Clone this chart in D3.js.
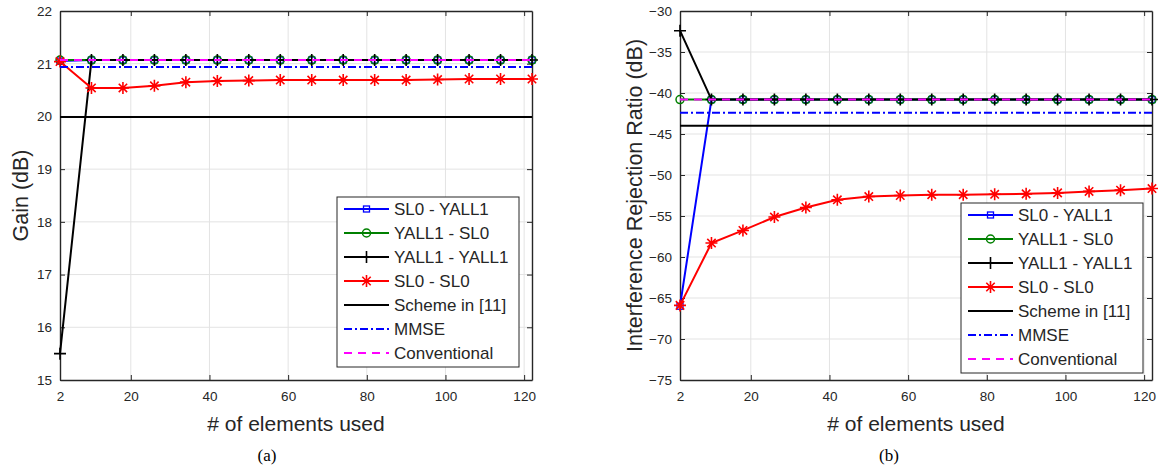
<!DOCTYPE html>
<html>
<head>
<meta charset="utf-8">
<script src="https://cdn.jsdelivr.net/npm/d3@7"></script>
<style>
body { margin: 0; background: #fff; }
svg text { font-family: "Liberation Sans", Arial, sans-serif; fill: #262626; }
</style>
</head>
<body>
<svg id="chart" width="1158" height="466"></svg>
<script>
// x values shared by both panels
const elements = [2, 10, 18, 26, 34, 42, 50, 58, 66, 74, 82, 90, 98, 106, 114, 122];
const xTicks = [2, 20, 40, 60, 80, 100, 120];
const seriesNames = ["SL0 - YALL1", "YALL1 - SL0", "YALL1 - YALL1", "SL0 - SL0", "Scheme in [11]", "MMSE", "Conventional"];

// panel (a): gain
const gainTicks = [15, 16, 17, 18, 19, 20, 21, 22];
const gainSl0Yall1 = [21.05, 21.07, 21.07, 21.07, 21.07, 21.07, 21.07, 21.07, 21.07, 21.07, 21.07, 21.07, 21.07, 21.07, 21.07, 21.07];
const gainYall1Sl0 = [21.07, 21.07, 21.07, 21.07, 21.07, 21.07, 21.07, 21.07, 21.07, 21.07, 21.07, 21.07, 21.07, 21.07, 21.07, 21.07];
const gainYall1Yall1 = [15.5, 21.07, 21.07, 21.07, 21.07, 21.07, 21.07, 21.07, 21.07, 21.07, 21.07, 21.07, 21.07, 21.07, 21.07, 21.07];
const gainSl0Sl0 = [21.04, 20.54, 20.54, 20.58, 20.65, 20.67, 20.68, 20.69, 20.69, 20.69, 20.69, 20.69, 20.7, 20.71, 20.71, 20.71];
const gainScheme11 = [19.99, 19.99];
const gainMmse = [20.94, 20.94];
const gainConventional = [21.07, 21.07];

// panel (b): interference rejection ratio
const irrTicks = [-75, -70, -65, -60, -55, -50, -45, -40, -35, -30];
const irrSl0Yall1 = [-66, -40.8, -40.8, -40.8, -40.8, -40.8, -40.8, -40.8, -40.8, -40.8, -40.8, -40.8, -40.8, -40.8, -40.8, -40.8];
const irrYall1Sl0 = [-40.8, -40.8, -40.8, -40.8, -40.8, -40.8, -40.8, -40.8, -40.8, -40.8, -40.8, -40.8, -40.8, -40.8, -40.8, -40.8];
const irrYall1Yall1 = [-32.4, -40.8, -40.8, -40.8, -40.8, -40.8, -40.8, -40.8, -40.8, -40.8, -40.8, -40.8, -40.8, -40.8, -40.8, -40.8];
const irrSl0Sl0 = [-65.9, -58.3, -56.76, -55.13, -53.97, -53.03, -52.63, -52.5, -52.4, -52.4, -52.35, -52.3, -52.18, -52.0, -51.85, -51.65];
const irrScheme11 = [-44.0, -44.0];
const irrMmse = [-42.4, -42.4];
const irrConventional = [-40.8, -40.8];

const flatX = [2, 122];

const styles = [
    { color: "#0000ff", marker: "square", dash: null },
    { color: "#008000", marker: "circle", dash: null },
    { color: "#000000", marker: "plus", dash: null },
    { color: "#ff0000", marker: "star", dash: null },
    { color: "#000000", marker: null, dash: null },
    { color: "#0000ff", marker: null, dash: "8,3,2,3" },
    { color: "#ff00ff", marker: null, dash: "8,6" }
];

const svg = d3.select("#chart");

function drawMarker(g, type, color) {
    if (type === "square") {
        g.append("rect").attr("x", -3).attr("y", -3).attr("width", 6).attr("height", 6)
            .attr("fill", "none").attr("stroke", color).attr("stroke-width", 1.3);
    } else if (type === "circle") {
        g.append("circle").attr("r", 4).attr("fill", "none").attr("stroke", color).attr("stroke-width", 1.5);
    } else if (type === "plus") {
        g.append("path").attr("d", "M-6,0H6M0,-6V6").attr("stroke", color).attr("stroke-width", 1.6);
    } else if (type === "star") {
        g.append("path").attr("d", "M-6,0H6M0,-6V6M-4.2,-4.2L4.2,4.2M-4.2,4.2L4.2,-4.2")
            .attr("stroke", color).attr("stroke-width", 1.6);
    }
}

function drawPanel(p) {
    const x = d3.scaleLinear().domain([2, 122]).range([p.left, p.right]);
    const y = d3.scaleLinear().domain(p.yDomain).range([p.bottom, p.top]);
    const g = svg.append("g");
    const fmt = d3.format("~g");

    // grid
    g.append("g").selectAll("line").data(xTicks.slice(1)).enter().append("line")
        .attr("x1", d => x(d)).attr("x2", d => x(d)).attr("y1", p.top).attr("y2", p.bottom)
        .attr("stroke", "#e3e3e3").attr("stroke-width", 1);
    g.append("g").selectAll("line").data(p.yTicks.slice(1, -1)).enter().append("line")
        .attr("x1", p.left).attr("x2", p.right).attr("y1", d => y(d)).attr("y2", d => y(d))
        .attr("stroke", "#e3e3e3").attr("stroke-width", 1);

    // axes with inward ticks on all four sides
    const axB = g.append("g").attr("transform", `translate(0,${p.bottom})`)
        .call(d3.axisBottom(x).tickValues(xTicks).tickFormat(fmt).tickSizeInner(-5).tickSizeOuter(0).tickPadding(11));
    const axT = g.append("g").attr("transform", `translate(0,${p.top})`)
        .call(d3.axisTop(x).tickValues(xTicks).tickSizeInner(-5).tickSizeOuter(0).tickFormat(""));
    const axL = g.append("g").attr("transform", `translate(${p.left},0)`)
        .call(d3.axisLeft(y).tickValues(p.yTicks).tickFormat(fmt).tickSizeInner(-5).tickSizeOuter(0).tickPadding(8));
    const axR = g.append("g").attr("transform", `translate(${p.right},0)`)
        .call(d3.axisRight(y).tickValues(p.yTicks).tickSizeInner(-5).tickSizeOuter(0).tickFormat(""));
    [axB, axT, axL, axR].forEach(a => {
        a.select(".domain").attr("stroke", "#262626").attr("stroke-width", 1.4);
        a.selectAll(".tick line").attr("stroke", "#262626").attr("stroke-width", 1);
        a.selectAll("text").attr("font-size", 13.5).attr("fill", "#262626")
            .style("font-family", "'Liberation Sans', Arial, sans-serif");
    });

    // series
    const line = d3.line().x(d => x(d[0])).y(d => y(d[1]));
    p.series.forEach((s, i) => {
        const st = styles[i];
        const pts = s.xs.map((v, j) => [v, s.ys[j]]);
        g.append("path").datum(pts).attr("d", line).attr("fill", "none")
            .attr("stroke", st.color).attr("stroke-width", 2)
            .attr("stroke-dasharray", st.dash);
        if (st.marker) {
            pts.forEach(d => {
                const m = g.append("g").attr("transform", `translate(${x(d[0])},${y(d[1])})`);
                drawMarker(m, st.marker, st.color);
            });
        }
    });

    // labels
    svg.append("text").attr("x", (p.left + p.right) / 2).attr("y", 431)
        .attr("text-anchor", "middle").attr("font-size", 21).text("# of elements used");
    svg.append("text").attr("transform", `translate(${p.yLabelX},${(p.top + p.bottom) / 2}) rotate(-90)`)
        .attr("text-anchor", "middle").attr("font-size", 21.5).text(p.yLabel);
    svg.append("text").attr("x", p.captionX).attr("y", 461)
        .attr("text-anchor", "middle").attr("font-size", 17)
        .style("font-family", "'Liberation Serif', 'Times New Roman', serif").style("fill", "#000")
        .text(p.caption);

    // legend
    const lg = svg.append("g").attr("transform", `translate(${p.legendX},${p.legendY})`);
    lg.append("rect").attr("width", 182).attr("height", 170)
        .attr("fill", "#fff").attr("stroke", "#262626").attr("stroke-width", 1);
    seriesNames.forEach((name, i) => {
        const st = styles[i];
        const ry = 12 + i * 24;
        lg.append("line").attr("x1", 7).attr("x2", 52).attr("y1", ry).attr("y2", ry)
            .attr("stroke", st.color).attr("stroke-width", 2).attr("stroke-dasharray", st.dash);
        if (st.marker) {
            drawMarker(lg.append("g").attr("transform", `translate(29.5,${ry})`), st.marker, st.color);
        }
        lg.append("text").attr("x", 57).attr("y", ry + 6).attr("font-size", 17).text(name);
    });
}

drawPanel({
    left: 60, right: 532, top: 11, bottom: 380,
    yDomain: [15, 22], yTicks: gainTicks,
    yLabel: "Gain (dB)", yLabelX: 28, caption: "(a)", captionX: 267,
    legendX: 337, legendY: 197,
    series: [
        { xs: elements, ys: gainSl0Yall1 },
        { xs: elements, ys: gainYall1Sl0 },
        { xs: elements, ys: gainYall1Yall1 },
        { xs: elements, ys: gainSl0Sl0 },
        { xs: flatX, ys: gainScheme11 },
        { xs: flatX, ys: gainMmse },
        { xs: flatX, ys: gainConventional }
    ]
});

drawPanel({
    left: 680, right: 1152, top: 11, bottom: 380,
    yDomain: [-75, -30], yTicks: irrTicks,
    yLabel: "Interference Rejection Ratio (dB)", yLabelX: 642, caption: "(b)", captionX: 889,
    legendX: 961, legendY: 203,
    series: [
        { xs: elements, ys: irrSl0Yall1 },
        { xs: elements, ys: irrYall1Sl0 },
        { xs: elements, ys: irrYall1Yall1 },
        { xs: elements, ys: irrSl0Sl0 },
        { xs: flatX, ys: irrScheme11 },
        { xs: flatX, ys: irrMmse },
        { xs: flatX, ys: irrConventional }
    ]
});
</script>
</body>
</html>
